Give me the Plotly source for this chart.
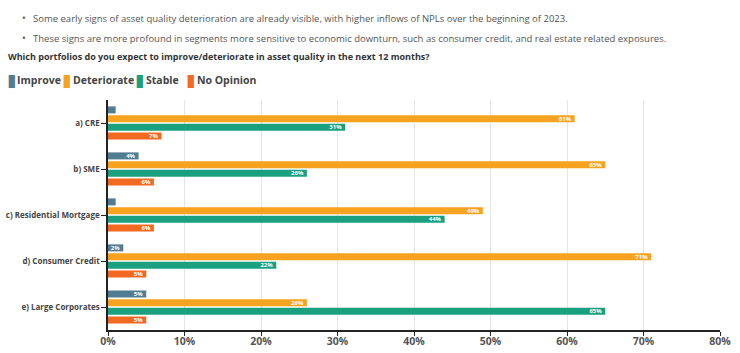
import plotly.graph_objects as go

categories = ["a) CRE", "b) SME", "c) Residential Mortgage", "d) Consumer Credit", "e) Large Corporates"]
improve = [1, 4, 1, 2, 5]
deteriorate = [61, 65, 49, 71, 26]
stable = [31, 26, 44, 22, 65]
no_opinion = [7, 6, 6, 5, 5]
x_ticks = [0, 10, 20, 30, 40, 50, 60, 70, 80]
x_tick_labels = [f"{v}%" for v in x_ticks]

bullets = [
    "Some early signs of asset quality deterioration are already visible, with higher inflows of NPLs over the beginning of 2023.",
    "These signs are more profound in segments more sensitive to economic downturn, such as consumer credit, and real estate related exposures.",
]
question = "Which portfolios do you expect to improve/deteriorate in asset quality in the next 12 months?"
series_names = ["Improve", "Deteriorate", "Stable", "No Opinion"]
series_values = [improve, deteriorate, stable, no_opinion]
series_colors = ["#527C91", "#F8A31F", "#1AA07F", "#F26A21"]

FONT = "Open Sans"
fig = go.Figure()
for name, vals, color in zip(series_names, series_values, series_colors):
    fig.add_trace(go.Bar(
        y=categories, x=vals, name=name, orientation="h",
        marker=dict(color=color, line=dict(width=0)),
        text=[f"{v}%" if v >= 2 else "" for v in vals],
        textposition="inside", insidetextanchor="end", textangle=0,
        textfont=dict(color="white", size=6, family=FONT, weight="bold"),
        constraintext="none",
        hoverinfo="x+name",
    ))

W, H = 740, 353
L, R, T, B = 108, 20, 100, 23
pw, ph = W - L - R, H - T - B

def px(xp):
    return (xp - L) / pw

def py(yp):
    return (H - B - yp) / ph

annotations = []
for i, t in enumerate(bullets):
    annotations.append(dict(
        text="•", x=px(20), y=py(18 + 20 * i), xref="paper", yref="paper",
        xanchor="left", yanchor="middle", showarrow=False,
        font=dict(family=FONT, size=10, color="#555555"),
    ))
    annotations.append(dict(
        text=t, x=px(31), y=py(18 + 20 * i), xref="paper", yref="paper",
        xanchor="left", yanchor="middle", showarrow=False,
        font=dict(family=FONT, size=9.5, color="#555555"),
    ))
annotations.append(dict(
    text="<b>" + question + "</b>", x=px(6), y=py(57), xref="paper", yref="paper",
    xanchor="left", yanchor="middle", showarrow=False,
    font=dict(family=FONT, size=9, color="#333333"),
))

legend_sq_x = [5, 60, 133, 184]
legend_tx_x = [15, 71, 144, 195]
for name, color, sx, tx in zip(series_names, series_colors, legend_sq_x, legend_tx_x):
    annotations.append(dict(
        text="▮", x=px(sx), y=py(80), xref="paper", yref="paper",
        xanchor="left", yanchor="middle", showarrow=False,
        font=dict(family="DejaVu Sans", size=17, color=color),
    ))
    annotations.append(dict(
        text=f"<b>{name}</b>", x=px(tx), y=py(80), xref="paper", yref="paper",
        xanchor="left", yanchor="middle", showarrow=False,
        font=dict(family=FONT, size=10.5, color="#444444"),
    ))

fig.update_layout(
    width=W, height=H,
    margin=dict(l=L, r=R, t=T, b=B, pad=0, autoexpand=False),
    paper_bgcolor="white", plot_bgcolor="white",
    barmode="group", bargap=0.24, bargroupgap=0.2,
    font=dict(family=FONT, color="#555555"),
    showlegend=False,
    annotations=annotations,
    xaxis=dict(
        range=[0, 80], tickvals=x_ticks, ticktext=x_tick_labels,
        showgrid=True, gridcolor="#E6E6E6", gridwidth=1,
        showline=True, linecolor="#222222", linewidth=1.5,
        ticks="outside", ticklen=4, tickcolor="#222222",
        tickfont=dict(family=FONT, size=10.5, color="#555555", weight="bold"),
        ticklabelstandoff=-3,
        zeroline=False, fixedrange=True, automargin=False,
    ),
    yaxis=dict(
        categoryorder="array", categoryarray=categories, autorange="reversed",
        showline=True, linecolor="#222222", linewidth=1.5,
        ticks="outside", ticklen=5, tickcolor="#222222",
        tickfont=dict(family=FONT, size=8, color="#444444", weight="bold"),
        showgrid=False, fixedrange=True, automargin=False,
    ),
)

fig.write_html("out.html")
